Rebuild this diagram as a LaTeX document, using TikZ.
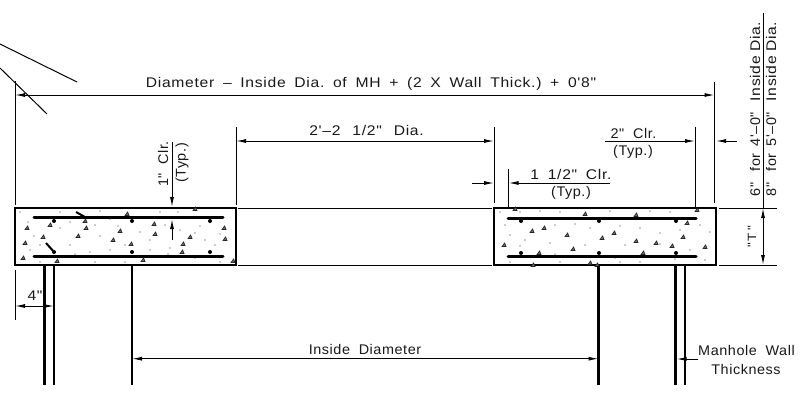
\documentclass[tikz,border=0pt]{standalone}
\usepackage{fontspec}
\setmainfont{Liberation Sans}
\newfontfamily\cad[FakeStretch=1.12,LetterSpace=5]{Liberation Sans}
\newfontfamily\cadn[FakeStretch=1.03,LetterSpace=4]{Liberation Sans}
\usetikzlibrary{arrows.meta}
\newcommand{\gp}{\hspace{0.62em}}
\newcommand{\gpw}{\hspace{0.85em}}
\tikzset{
  thin line/.style={line width=1pt,black},
  dimline/.style={line width=1pt,black,{Latex[length=10pt,width=4pt]}-{Latex[length=10pt,width=4pt]}},
  arrowline/.style={line width=1pt,black,-{Latex[length=10pt,width=4pt]}},
  slabbox/.style={line width=2.9pt,black,line join=miter},
  rebar/.style={line width=3pt,black,line cap=round},
  wall/.style={line width=2.8pt,black},
  lbl/.style={inner sep=0pt,font=\cad\fontsize{14}{14}\selectfont,text=black!90},
  lbln/.style={inner sep=0pt,font=\cadn\fontsize{14}{14}\selectfont,text=black!90},
  speck/.style={fill=black!85,draw=none},
}
\newcommand{\tri}[2]{\filldraw[black!85,fill=black!55,line width=0.7pt] (#1-2,#2+1.5) -- (#1+2,#2+1.5) -- (#1+0.6,#2-2) -- cycle;}
\begin{document}
\begin{tikzpicture}[x=1pt,y=-1pt]
\useasboundingbox (0,0) rectangle (802,392);
\fill[white] (0,0) rectangle (802,392);
% free coordinates
\coordinate (a0) at (0,44); \coordinate (a1) at (77,82);
\coordinate (b0) at (0,68); \coordinate (b1) at (47,114);
\draw[thin line] (a0) -- (a1);
\draw[thin line] (b0) -- (b1);
% main extension lines
\coordinate (e1a) at (15,81); \coordinate (e1b) at (15,205);
\coordinate (e2a) at (714.5,82); \coordinate (e2b) at (714.5,203);
\draw[thin line] (e1a) -- (e1b);
\draw[thin line] (e2a) -- (e2b);
\coordinate (d1a) at (15,95); \coordinate (d1b) at (714.5,95);
\draw[dimline] (d1a) -- (d1b);
\node[lbl] (tdia) at (371,84) {Diameter\gp –\gp Inside\gp Dia.\gp of\gp MH\gp +\gp (2\gp X\gp Wall\gp Thick.)\gp +\gp 0'8"};
% 2'-2 1/2 Dia
\coordinate (e3a) at (236,127); \coordinate (e3b) at (236,205);
\coordinate (e4a) at (494,127); \coordinate (e4b) at (494,203);
\draw[thin line] (e3a) -- (e3b);
\draw[thin line] (e4a) -- (e4b);
\coordinate (d2a) at (236,141); \coordinate (d2b) at (494,141);
\draw[dimline] (d2a) -- (d2b);
\node[lbl] (tmid) at (366.5,130) {2'–2\gpw 1/2"\gpw Dia.};
% 1 1/2 clr
\coordinate (e5a) at (508.7,169); \coordinate (e5b) at (508.7,208);
\draw[thin line] (e5a) -- (e5b);
\coordinate (d3o) at (472,183); \coordinate (d3e) at (494,183);
\draw[arrowline] (d3o) -- (d3e);
\coordinate (d4o) at (610,183); \coordinate (d4e) at (508.7,183);
\draw[arrowline] (d4o) -- (d4e);
\node[lbl] (t112) at (571,174.5) {1\gp 1/2"\gp Clr.};
\node[lbln] (t112b) at (571,193) {(Typ.)};
% 2 clr
\coordinate (e6a) at (695,127); \coordinate (e6b) at (695,207);
\draw[thin line] (e6a) -- (e6b);
\coordinate (d5o) at (605,141); \coordinate (d5e) at (695,141);
\draw[arrowline] (d5o) -- (d5e);
\coordinate (d6o) at (737,141); \coordinate (d6e) at (716,141);
\draw[arrowline] (d6o) -- (d6e);
\node[lbln] (t2) at (633.5,133) {2"\gp Clr.};
\node[lbln] (t2b) at (633,152) {(Typ.)};
% 1 clr
\coordinate (f1o) at (172,142); \coordinate (f1e) at (172,207);
\draw[arrowline] (f1o) -- (f1e);
\coordinate (f2o) at (172,240); \coordinate (f2e) at (172,219);
\draw[arrowline] (f2o) -- (f2e);
\node[lbln,rotate=90] (t1c) at (163,164) {1"\gp Clr.};
\node[lbln,rotate=90] (t1d) at (182,163) {(Typ.)};
% thin horizontals
\coordinate (h1a) at (238,208); \coordinate (h1b) at (492,208);
\coordinate (h2a) at (238,265); \coordinate (h2b) at (492,265);
\draw[thin line] (h1a) -- (h1b);
\draw[thin line] (h2a) -- (h2b);
\coordinate (h3a) at (719,208); \coordinate (h3b) at (777,208);
\coordinate (h4a) at (719,265); \coordinate (h4b) at (777,265);
\draw[thin line] (h3a) -- (h3b);
\draw[thin line] (h4a) -- (h4b);
% right vertical
\coordinate (v0) at (763,13); \coordinate (v1) at (763,208); \coordinate (v2) at (763,265);
\draw[thin line] (v0) -- (v1);
\draw[dimline] (v1) -- (v2);
\node[lbln,rotate=90] (t6) at (755,109) {6"\hspace{11pt}for\hspace{7pt}4'–0"\hspace{11pt}{\cad Inside\hspace{4pt}Dia.}};
\node[lbln,rotate=90] (t8) at (771,109) {8"\hspace{11pt}for\hspace{7pt}5'–0"\hspace{11pt}{\cad Inside\hspace{4pt}Dia.}};
\node[lbl,rotate=90,font=\cad\fontsize{12}{12}\selectfont] (tt) at (752,237) {"\,T\,"};
% slabs
\draw[slabbox] (15,208) rectangle (236,265);
\draw[slabbox] (494,208) rectangle (716,265);
% rebars
\draw[rebar] (34,217) -- (223,217);
\draw[rebar] (34,256) -- (223,256);
\draw[rebar] (508,218) -- (696,218);
\draw[rebar] (508,256) -- (696,256);
\draw[line width=2pt,black] (76,212) -- (85,217);
\draw[line width=2pt,black] (46,243) -- (55,253);
\foreach \x in {54,132,210}{\fill (\x,221) circle (2); \fill (\x,252) circle (2);}
\foreach \x in {521,599,676}{\fill (\x,221) circle (2); \fill (\x,253) circle (2);}
% aggregate left
\foreach \x/\y in {27/228,50/225,85/221,86/228,120/231,78/236,43/237,25/243,113/240,131/244,154/224,155/234,190/237,183/244,182/252,224/228,225/239,23/258,57/261,143/260,233/261,195/209,127/214}{\tri{\x}{\y}}
\foreach \x/\y in {20/212,28/222,60/228,70/222,95/225,100/236,110/219,125/245,140/232,150/240,165/225,170/248,180/230,200/226,205/240,215/245,220/234,30/250,40/245,70/245,90/252,110/250,150/250,168/254,195/258,220/262,40/262,95/262,125/262,160/212,178/212,60/212,100/211,34/236,75/254,118/226,195/233}{\fill[speck] (\x,\y) circle (0.7);}
% aggregate right
\foreach \x/\y in {585/214,636/215,687/223,532/231,544/228,567/235,614/233,602/238,636/241,683/237,504/245,573/249,539/253,656/243,672/246,705/247,643/253,590/263,533/265,597/265,697/210,515/209}{\tri{\x}{\y}}
\foreach \x/\y in {500/212,520/212,540/211,560/212,610/211,650/211,670/212,505/225,510/235,525/240,555/225,575/224,590/228,620/226,640/228,660/233,680/230,700/225,710/232,520/246,550/243,585/245,625/245,660/244,690/250,555/254,615/258,640/262,675/259,705/260,510/262,560/262,620/262}{\fill[speck] (\x,\y) circle (0.7);}
% walls
\coordinate (w1a) at (44.5,266); \coordinate (w1b) at (44.5,385);
\coordinate (w2a) at (54,266); \coordinate (w2b) at (54,385);
\coordinate (w3a) at (132,266); \coordinate (w3b) at (132,385);
\coordinate (w4a) at (598.5,266); \coordinate (w4b) at (598.5,385);
\coordinate (w5a) at (675.7,266); \coordinate (w5b) at (675.7,385);
\coordinate (w6a) at (685,266); \coordinate (w6b) at (685,385);
\foreach \p in {1,...,6}{\draw[wall] (w\p a) -- (w\p b);}
% 4 in
\coordinate (e7a) at (15,270); \coordinate (e7b) at (15,320);
\draw[thin line] (e7a) -- (e7b);
\coordinate (d7a) at (15,306); \coordinate (d7b) at (54,306);
\draw[dimline] (d7a) -- (d7b);
\node[lbl] (t4) at (35,296) {4"};
% inside diameter
\coordinate (d8a) at (132,358.7); \coordinate (d8b) at (598.5,358.7);
\draw[dimline] (d8a) -- (d8b);
\node[lbln] (tin) at (365,349) {Inside\gp Diameter};
% manhole
\coordinate (d9o) at (698,359); \coordinate (d9e) at (676.5,359);
\draw[arrowline] (d9o) -- (d9e);
\node[lbln] (tm1) at (746.5,350) {Manhole\gp Wall};
\node[lbln] (tm2) at (746,369) {Thickness};
\end{tikzpicture}
\end{document}
